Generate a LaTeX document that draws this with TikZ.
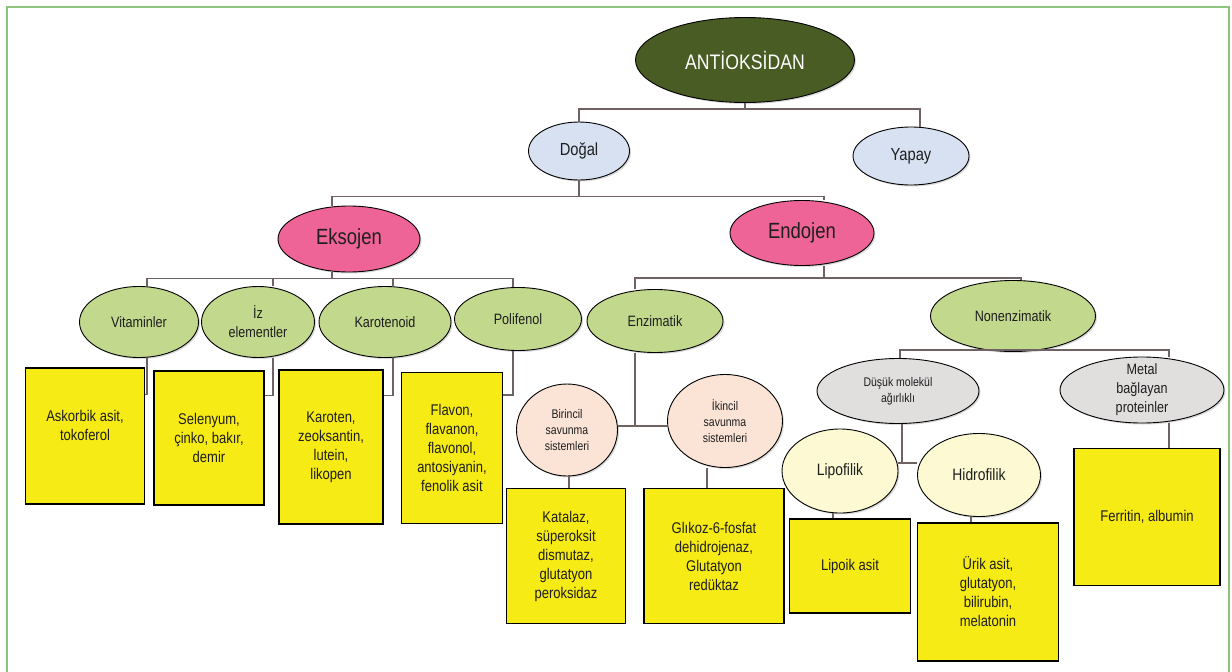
\documentclass[tikz,border=0pt]{standalone}
\usepackage{fontspec}
\setmainfont[FakeStretch=0.84]{Liberation Sans}
\usepackage{tikz}
\usetikzlibrary{positioning, shapes.geometric, shadows, calc}
\definecolor{ink}{HTML}{1E1E1E}
\definecolor{rootgreen}{HTML}{485C23}
\definecolor{skyfill}{HTML}{D7E1F1}
\definecolor{rosefill}{HTML}{EE6496}
\definecolor{leaffill}{HTML}{C2D98D}
\definecolor{peachfill}{HTML}{FBE3D6}
\definecolor{stonefill}{HTML}{E1DEDE}
\definecolor{creamfill}{HTML}{FCF9D3}
\definecolor{boxyellow}{HTML}{F6EB14}
\definecolor{linkgray}{HTML}{6F6262}
\definecolor{framegreen}{HTML}{8DC47E}
\tikzset{
  ov/.style={ellipse, draw=black, line width=0.9pt, text=ink, align=center,
    inner sep=0pt, drop shadow={shadow xshift=1.5pt, shadow yshift=-1.5pt, opacity=0.3}},
  ovr/.style={ov, fill=rootgreen, text=white, font=\fontsize{21}{25}\selectfont},
  ovb/.style={ov, fill=skyfill, font=\fontsize{17.5}{20}\selectfont},
  ovp/.style={ov, fill=rosefill, font=\fontsize{22}{26}\selectfont},
  ovg/.style={ov, fill=leaffill, font=\fontsize{15}{19}\selectfont},
  ovc/.style={ov, fill=peachfill, font=\fontsize{12.5}{16}\selectfont},
  ovs/.style={ov, fill=stonefill},
  ovy/.style={ov, fill=creamfill, font=\fontsize{16.5}{20}\selectfont},
  bx/.style={rectangle, draw=black, line width=1.3pt, fill=boxyellow, text=ink,
    align=center, inner sep=2pt, font=\fontsize{15.5}{19}\selectfont},
  link/.style={draw=linkgray, line width=1.5pt},
  frame/.style={draw=framegreen, line width=1.5pt},
}
\begin{document}
\begin{tikzpicture}[x=1pt, y=-1pt]
  \useasboundingbox (0,0) rectangle (1232,672);
  \draw[frame] (7,672) -- (7,7) -- (1229,7) -- (1229,672);

  % upper levels
  \node[ovr, minimum width=219pt, minimum height=85pt] (root) at (745,60) {ANTİOKSİDAN};
  \node[ovb, minimum width=101pt, minimum height=58pt] (dogal) at (579,151) {Doğal};
  \node[ovb, minimum width=116pt, minimum height=58pt] (yapay) at (911,156) {Yapay};
  \node[ovp, minimum width=142pt, minimum height=66pt] (eksojen) at (349,239) {Eksojen};
  \node[ovp, minimum width=144pt, minimum height=65pt] (endojen) at (802,233) {Endojen};

  % green row
  \node[ovg, minimum width=119pt, minimum height=71pt] (vit) at (139,322) {Vitaminler};
  \node[ovg, minimum width=113pt, minimum height=71pt] (iz) at (258,322) {İz\\elementler};
  \node[ovg, minimum width=132pt, minimum height=71pt] (karot) at (385,322) {Karotenoid};
  \node[ovg, minimum width=127pt, minimum height=63pt] (polif) at (518,319) {Polifenol};
  \node[ovg, minimum width=136pt, minimum height=63pt] (enzim) at (655,321) {Enzimatik};
  \node[ovg, minimum width=165pt, minimum height=71pt] (nonenz) at (1013,316) {Nonenzimatik};

  % endojen sub levels
  \node[ovc, minimum width=101pt, minimum height=92pt] (bir) at (567,430) {Birincil\\savunma\\sistemleri};
  \node[ovc, minimum width=115pt, minimum height=93pt] (ikin) at (725,421) {İkincil\\savunma\\sistemleri};
  \node[ovs, minimum width=162pt, minimum height=65pt, font=\fontsize{12.5}{16}\selectfont] (dusuk) at (898,391) {Düşük molekül\\ağırlıklı};
  \node[ovs, minimum width=164pt, minimum height=66pt, inner sep=-10pt, font=\fontsize{15}{19}\selectfont] (metal) at (1142,390) {Metal\\bağlayan\\proteinler};
  \node[ovy, minimum width=116pt, minimum height=84pt] (lipo) at (840,471) {Lipofilik};
  \node[ovy, minimum width=123pt, minimum height=83pt] (hidro) at (979,475) {Hidrofilik};

  % yellow boxes
  \node[bx, minimum width=119pt, minimum height=136pt] (askbox) at (85,436) {Askorbik asit,\\tokoferol\\[2pt]};
  \node[bx, minimum width=110pt, minimum height=134pt] (selbox) at (209,438) {Selenyum,\\çinko, bakır,\\demir};
  \node[bx, minimum width=104pt, minimum height=154pt] (karbox) at (331,447) {Karoten,\\zeoksantin,\\lutein,\\likopen};
  \node[bx, minimum width=101pt, minimum height=151pt] (flabox) at (452,448) {Flavon,\\flavanon,\\flavonol,\\antosiyanin,\\fenolik asit};
  \node[bx, minimum width=119pt, minimum height=135pt] (katbox) at (566,556) {Katalaz,\\süperoksit\\dismutaz,\\glutatyon\\peroksidaz};
  \node[bx, minimum width=140pt, minimum height=135pt] (glibox) at (714,556) {Glıkoz-6-fosfat\\dehidrojenaz,\\Glutatyon\\redüktaz};
  \node[bx, minimum width=121pt, minimum height=94pt] (lipbox) at (850,566) {Lipoik asit};
  \node[bx, minimum width=141pt, minimum height=138pt] (urikbox) at (988,592) {Ürik asit,\\glutatyon,\\bilirubin,\\melatonin};
  \node[bx, minimum width=146pt, minimum height=137pt] (ferbox) at (1147,517) {Ferritin, albumin};

  % connectors
  \draw[link] (root.south) -- ++(0,6) -| (dogal.north);
  \draw[link] (root.south) -- ++(0,6) -| ([xshift=9pt]yapay.north);
  \draw[link] (dogal.south) -- ++(0,16) -| ([xshift=-17pt]eksojen.north);
  \draw[link] (dogal.south) -- ++(0,16) -| ([xshift=22pt]endojen.north);
  \draw[link] ([xshift=-17pt]eksojen.south) -- ++(0,6) -| ([xshift=8pt]vit.north);
  \draw[link] ([xshift=-17pt]eksojen.south) -- ++(0,6) -| ([xshift=15pt]iz.north);
  \draw[link] ([xshift=-17pt]eksojen.south) -- ++(0,6) -| ([xshift=8pt]karot.north);
  \draw[link] ([xshift=-17pt]eksojen.south) -- ++(0,6) -| ([xshift=-5pt]polif.north);
  \draw[link] ([xshift=22pt]endojen.south) -- ++(0,12) -| ([xshift=-20pt]enzim.north);
  \draw[link] ([xshift=22pt]endojen.south) -- ++(0,12) -| ([xshift=8pt]nonenz.north);

  \draw[link] ([xshift=8pt]vit.south) |- ([yshift=-27pt]askbox.north east);
  \draw[link] ([xshift=15pt]iz.south) |- ([yshift=-25pt]selbox.north east);
  \draw[link] ([xshift=8pt]karot.south) |- ([yshift=-26pt]karbox.north east);
  \draw[link] ([xshift=-5pt]polif.south) |- ([yshift=-23pt]flabox.north east);

  \draw[link] ([yshift=4pt]bir.east) -- ([yshift=-5pt]ikin.west);
  \draw[link] ([xshift=-20pt]enzim.south) |- ([yshift=-5pt]ikin.west);
  \draw[link] ([xshift=2pt]bir.south) -- ([xshift=2pt]bir.south |- katbox.north);
  \draw[link] ([xshift=-18pt]ikin.south) -- ([xshift=-18pt]ikin.south |- glibox.north);

  \draw[link] ([xshift=2pt]dusuk.north) |- ([yshift=2pt]nonenz.south) -| ([xshift=27pt]metal.north);
  \draw[link] ([yshift=8pt]lipo.east) -- ([yshift=12pt]hidro.west);
  \draw[link] ([xshift=4pt]dusuk.south) |- ([yshift=8pt]lipo.east);
  \draw[link] ([xshift=-7pt]lipo.south) -- ([xshift=-7pt]lipo.south |- lipbox.north);
  \draw[link] ([xshift=-8pt]hidro.south) -- ([xshift=-8pt]hidro.south |- urikbox.north);
  \draw[link] ([xshift=27pt]metal.south) -- ([xshift=27pt]metal.south |- ferbox.north);
\end{tikzpicture}
\end{document}
